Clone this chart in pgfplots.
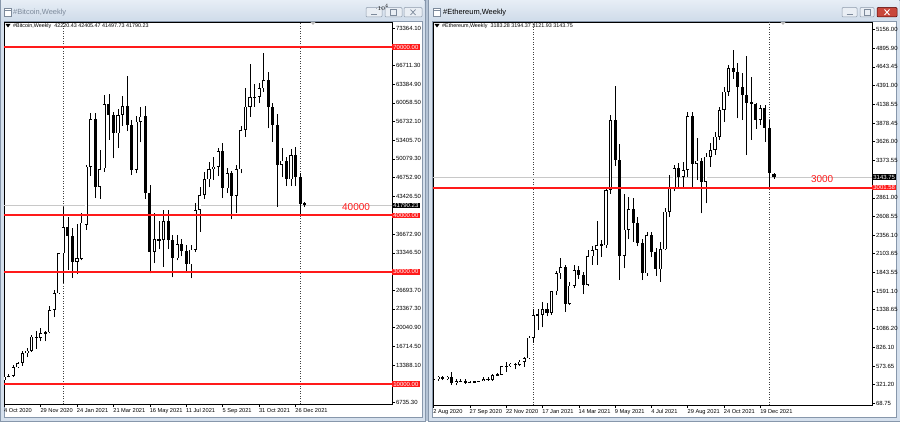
\documentclass[border=0pt]{standalone}
\usepackage{pgfplots}
\pgfplotsset{compat=1.18}
\usepackage{pgfplotstable}
\usepackage{fontspec}
\setmainfont{Liberation Sans}
\newcommand\tk{\fontsize{6}{7}\selectfont}
\newcommand\dt{\fontsize{5.7}{6.5}\selectfont}
\newcommand\hd{\fontsize{5.4}{6.5}\selectfont}
\definecolor{wbg}{HTML}{B4C3D5}
\definecolor{wfr}{HTML}{D5E0ED}
\definecolor{wfb}{HTML}{8797AB}
\definecolor{tbt}{HTML}{E6EDF5}
\definecolor{tbb}{HTML}{D0DCEA}
\definecolor{ttl}{HTML}{7D8A9B}
\definecolor{btn}{HTML}{E9EEF4}
\definecolor{btnb}{HTML}{8E9BAC}
\definecolor{closer}{HTML}{C8473B}
\definecolor{curln}{HTML}{C8C8C8}
\definecolor{lvl}{HTML}{FF1A1A}

\pgfplotstableread{
i o h l c
0 10650 11500 10550 11300
1 11300 11720 11200 11400
2 11400 13300 11250 12950
3 12950 14000 12900 13750
4 13750 15900 13250 15450
5 15450 16450 14800 15950
6 15950 18800 15750 18450
7 18450 19400 16300 18250
8 18250 19900 17600 19100
9 19100 19400 17600 19200
10 19200 23800 19000 23170
11 23170 26800 21900 26150
12 26150 33300 26000 33270
13 33270 41570 28000 37900
14 37900 39800 30300 36360
15 36360 37800 28830 31790
16 31800 38500 29500 32400
17 32340 40400 32000 38700
18 38310 49000 37500 48690
19 48690 58200 47000 57120
20 57120 58300 43070 45160
21 45160 51660 43000 48220
22 48400 61450 47800 59850
23 59850 61700 53440 57890
24 57890 58500 50180 54630
25 54630 59000 52000 57890
26 57890 61200 56000 59490
27 59490 64830 55000 56110
28 56110 57000 47200 48100
29 48100 57800 47500 56700
30 56700 59370 53000 57590
31 57710 59500 43000 44060
32 44060 45500 29690 33550
33 33550 40500 31500 35750
34 35750 39000 34000 35700
35 35700 40980 30900 39010
36 39010 40980 34000 35630
37 35630 36500 28990 32370
38 32370 36600 32000 34900
39 34900 35900 32700 33600
40 33600 34700 30000 31300
41 31300 34800 28800 33900
42 33900 42170 33500 40980
43 40980 45130 37120 43650
44 43650 47800 43000 46440
45 46440 49600 45000 48220
46 48220 50400 46400 48700
47 48700 52000 47000 51490
48 51490 52850 43070 44850
49 44850 48400 44000 47500
50 47500 48000 39310 43470
51 43470 49000 40500 48220
52 48220 56000 47500 55220
53 55220 62640 54000 59370
54 59370 66970 57590 61030
55 61030 63480 59370 61140
56 61140 63500 60000 62640
57 62640 68870 62000 64120
58 64120 65600 55510 59370
59 59370 60000 53150 56110
60 56110 58000 41570 48990
61 48990 52100 46790 49760
62 49760 50500 45250 46440
63 46440 51900 45250 50770
64 50770 52130 45250 46910
65 46910 47500 40260 41990
66 42220.43 42405.47 41497.73 41790.23
}\btc

\pgfplotstableread{
i o h l c
0 390 414 360 392
1 392 440 375 427
2 427 440 380 400
3 400 435 380 427
4 427 488 315 335
5 335 390 310 365
6 365 395 355 370
7 370 392 330 350
8 350 365 335 352
9 352 375 340 365
10 365 375 355 372
11 372 420 365 395
12 395 420 375 385
13 385 470 375 450
14 450 475 440 455
15 455 575 450 570
16 570 625 490 575
17 575 620 560 605
18 605 610 530 590
19 590 660 575 630
20 630 700 560 677
21 677 980 670 958
22 958 1350 890 1267
23 1267 1350 1060 1270
24 1270 1448 1100 1349
25 1349 1430 1250 1295
26 1295 1600 1270 1590
27 1590 1860 1540 1835
28 1835 2040 1760 1920
29 1920 1950 1310 1420
30 1420 1720 1400 1665
31 1665 1945 1640 1875
32 1875 1940 1760 1810
33 1810 1850 1550 1676
34 1676 2150 1660 2065
35 2065 2200 1950 2150
36 2150 2540 1950 2220
37 2230 2290 2060 2215
38 2215 2990 2180 2970
39 2970 3990 2920 3915
40 3915 4390 3300 3376
41 3376 3600 1750 2070
42 2070 2913 1900 2430
43 2430 2877 2300 2705
44 2705 2854 2265 2523
45 2523 2605 2200 2251
46 2251 2300 1743 1833
47 1833 2400 1800 2355
48 2355 2400 2050 2128
49 2128 2175 1800 1888
50 1888 2264 1720 2160
51 2160 2720 2150 2673
52 2673 3172 2600 2991
53 2991 3310 2950 3263
54 3263 3331 3000 3149
55 3149 3354 3013 3240
56 3240 4027 3150 3975
57 3975 4034 3013 3322
58 3322 3671 3104 3367
59 3367 3399 2650 3081
60 3081 3467 2786 3422
61 3422 3603 3286 3512
62 3512 3762 3450 3694
63 3694 4102 3650 4057
64 4057 4375 3898 4307
65 4307 4670 4250 4624
66 4624 4874 4480 4579
67 4579 4700 3943 4375
68 4375 4556 3921 4261
69 4261 4792 3444 4148
70 4161 4511 3649 4134
71 4134 4148 3800 3921
72 3921 4125 3850 4080
73 4080 4125 3626 3807
74 3807 3921 3010 3195
75 3183.28 3194.37 3121.93 3143.75
}\eth

\tikzset{plab/.style={anchor=west, font=\tk, inner xsep=1.2bp, inner ysep=0.8bp, text=white}}
\pgfplotsset{
  mt/.style={
    scale only axis, anchor=south west,
    axis line style={black, line width=0.6bp},
    tick align=outside, major tick length=3bp,
    tick style={black, line width=0.5bp},
    ytick pos=right, yticklabel pos=right, xtick pos=left,
    xticklabel style={anchor=north west, inner xsep=0pt, inner ysep=1.2bp, font=\dt, xshift=-0.3bp},
    yticklabel style={anchor=west, inner xsep=0.8bp, font=\tk},
    clip mode=individual,
  },
  sep/.style={forget plot, black!75, line width=0.5bp, dash pattern=on 1bp off 1.5bp},
  level/.style={forget plot, solid, color=lvl, line width=2bp, mark=none},
  wick/.style={forget plot, draw=none, mark=none,
    error bars/.cd, y dir=plus, y explicit, error mark=none,
    error bar style={draw=black, solid, line width=0.6bp}},
  body/.style={forget plot, draw=none, mark=none,
    error bars/.cd, y dir=both, y explicit, error mark=none,
    error bar style={draw=black, solid, line width=3.1bp}},
  hollow/.style={forget plot, draw=none, mark=none,
    error bars/.cd, y dir=both, y explicit, error mark=none,
    error bar style={draw=white, solid, line width=1.8bp}},
}

\begin{document}
\begin{tikzpicture}[x=1bp,y=1bp]
\useasboundingbox (0,0) rectangle (900,421);
\fill[wbg] (0,0) rectangle (900,421);
% ---- left window chrome
\fill[wfr] (0,0) rectangle (425,421);
\draw[wfb, line width=0.5bp] (0.25,0.25) rectangle (424.75,420.75);
\shade[top color=tbt, bottom color=tbb] (1,401) rectangle (424,420);
\fill[white] (4,4) rectangle (422,400);
\draw[wfb, line width=0.4bp] (3.8,3.8) rectangle (422.2,400.2);
\draw[ttl, line width=0.5bp, fill=white] (4.5,405) rectangle (11.5,413);
\draw[ttl, line width=0.5bp] (4.5,411) -- (11.5,411);
\node[anchor=west, inner sep=0, text=ttl, font=\fontsize{7.5}{9}\selectfont] at (13,408.5) {\#Bitcoin,Weekly};
\foreach \a/\b in {366/382, 385/402, 404/422}{
  \draw[btnb, line width=0.5bp, fill=btn, rounded corners=1bp] (\a,404) rectangle (\b,413.5);}
\draw[ttl, line width=0.8bp] (371,406.5) -- (377,406.5);
\draw[ttl, line width=0.6bp] (390.5,405.8) rectangle (396.5,411.2);
\draw[ttl, line width=0.7bp] (410.5,406) -- (415.5,411.5) (410.5,411.5) -- (415.5,406);
% ---- right window chrome
\fill[wfr] (428,0) rectangle (900,421);
\draw[wfb, line width=0.5bp] (428.25,0.25) rectangle (899.75,420.75);
\shade[top color=tbt, bottom color=tbb] (429,401) rectangle (899,420);
\fill[white] (432,4) rectangle (896,400);
\draw[wfb, line width=0.4bp] (431.8,3.8) rectangle (896.2,400.2);
\draw[ttl, line width=0.5bp, fill=white] (433,405) rectangle (440,413);
\draw[ttl, line width=0.5bp] (433,411) -- (440,411);
\node[anchor=west, inner sep=0, text=black, font=\fontsize{7.5}{9}\selectfont] at (443,408.5) {\#Ethereum,Weekly};
\foreach \a/\b in {842/857, 860/874}{
  \draw[btnb, line width=0.5bp, fill=btn, rounded corners=1bp] (\a,404) rectangle (\b,413.5);}
\draw[black!70!red, line width=0.5bp, fill=closer, rounded corners=1bp] (877,404) rectangle (897,413.5);
\draw[ttl, line width=0.8bp] (846.5,406.5) -- (852.5,406.5);
\draw[ttl, line width=0.6bp] (864,405.8) rectangle (870,411.2);
\draw[white, line width=0.9bp] (884.5,406) -- (889.5,411.5) (884.5,411.5) -- (889.5,406);

% ---- Bitcoin axis
\begin{axis}[mt, at={(4bp,17bp)}, width=388bp, height=382bp,
  xmin=-0.05, xmax=85.2, ymin=6439, ymax=74447,
  ytick={6735.30,13388.10,16714.50,20040.90,23367.30,26693.70,33346.50,36672.90,43426.50,46752.90,50079.30,53405.70,56732.10,60058.50,63384.90,66711.30,73364.10},
  yticklabels={6735.30,13388.10,16714.50,20040.90,23367.30,26693.70,33346.50,36672.90,43426.50,46752.90,50079.30,53405.70,56732.10,60058.50,63384.90,66711.30,73364.10},
  xtick={0,8,16,24,32,40,48,56,64},
  xticklabels={4 Oct 2020,29 Nov 2020,24 Jan 2021,21 Mar 2021,16 May 2021,11 Jul 2021,5 Sep 2021,31 Oct 2021,26 Dec 2021},
]
\addplot[sep] coordinates {(13,6439) (13,74447)};
\addplot[sep] coordinates {(65,6439) (65,74447)};
\addplot[forget plot, draw=curln, line width=0.6bp, mark=none] coordinates {(-2,41790.23) (90,41790.23)};
\addplot[wick] table[x=i, y=l, y error expr={\thisrow{h}-\thisrow{l}}] {\btc};
\addplot[body] table[x=i, y expr={(\thisrow{o}+\thisrow{c})/2}, y error expr={max(abs(\thisrow{c}-\thisrow{o})/2,89)}] {\btc};
\addplot[hollow] table[x=i, y expr={(\thisrow{o}+\thisrow{c})/2}, y error expr={max((\thisrow{c}-\thisrow{o})/2-116,0)}] {\btc};
\addplot[level] coordinates {(-2,70000) (90,70000)};
\addplot[level] coordinates {(-2,40000) (90,40000)};
\addplot[level] coordinates {(-2,30000) (90,30000)};
\addplot[level] coordinates {(-2,10000) (90,10000)};
\node[plab, fill=lvl] at (axis cs:85.2,70000) {70000.00};
\node[plab, fill=lvl] at (axis cs:85.2,40000) {40000.00};
\node[plab, fill=lvl] at (axis cs:85.2,30000) {30000.00};
\node[plab, fill=lvl] at (axis cs:85.2,10000) {10000.00};
\node[plab, fill=black] at (axis cs:85.2,41790.23) {41790.23};
\node[text=lvl, font=\fontsize{10}{12}\selectfont, inner sep=0] at (axis cs:77.3,41500) {40000};
\end{axis}

% ---- Ethereum axis
\begin{axis}[mt, at={(433bp,16bp)}, width=439bp, height=383bp,
  xmin=-0.11, xmax=96.6, ymin=42, ymax=5255,
  ytick={68.75,321.20,573.65,826.10,1086.20,1338.65,1591.10,1843.55,2103.65,2356.10,2608.55,2861.00,3373.55,3626.00,3878.45,4138.55,4391.00,4643.45,4895.90,5156.00},
  yticklabels={68.75,321.20,573.65,826.10,1086.20,1338.65,1591.10,1843.55,2103.65,2356.10,2608.55,2861.00,3373.55,3626.00,3878.45,4138.55,4391.00,4643.45,4895.90,5156.00},
  xtick={0,8,16,24,32,40,48,56,64,72},
  xticklabels={2 Aug 2020,27 Sep 2020,22 Nov 2020,17 Jan 2021,14 Mar 2021,9 May 2021,4 Jul 2021,29 Aug 2021,24 Oct 2021,19 Dec 2021},
]
\addplot[sep] coordinates {(22,42) (22,5255)};
\addplot[sep] coordinates {(74,42) (74,5255)};
\addplot[forget plot, draw=curln, line width=0.6bp, mark=none] coordinates {(-2,3143.75) (100,3143.75)};
\addplot[wick] table[x=i, y=l, y error expr={\thisrow{h}-\thisrow{l}}] {\eth};
\addplot[body] table[x=i, y expr={(\thisrow{o}+\thisrow{c})/2}, y error expr={max(abs(\thisrow{c}-\thisrow{o})/2,6.8)}] {\eth};
\addplot[hollow] table[x=i, y expr={(\thisrow{o}+\thisrow{c})/2}, y error expr={max((\thisrow{c}-\thisrow{o})/2-8.8,0)}] {\eth};
\addplot[level] coordinates {(-2,3001.58) (100,3001.58)};
\node[plab, fill=lvl] at (axis cs:96.6,3001.58) {3001.58};
\node[plab, fill=black] at (axis cs:96.6,3143.75) {3143.75};
\node[text=lvl, font=\fontsize{10}{12}\selectfont, inner sep=0] at (axis cs:85.6,3118) {3000};
\end{axis}

% ---- chart headers and shift markers
\fill[black] (5.5,397) -- (10.5,397) -- (8,393.5) -- cycle;
\node[anchor=west, inner sep=0, font=\hd] at (13,395.2) {\#Bitcoin,Weekly\ \ 42220.43 42405.47 41497.73 41790.23};
\fill[black] (434.5,397) -- (439.5,397) -- (437,393.5) -- cycle;
\node[anchor=west, inner sep=0, font=\hd] at (442,395.2) {\#Ethereum,Weekly\ \ 3183.28 3194.37 3121.93 3143.75};
\fill[gray!55] (310.5,399) -- (315.5,399) -- (313,396) -- cycle;
\fill[gray!55] (780.5,399) -- (785.5,399) -- (783,396) -- cycle;
\end{tikzpicture}
\end{document}
